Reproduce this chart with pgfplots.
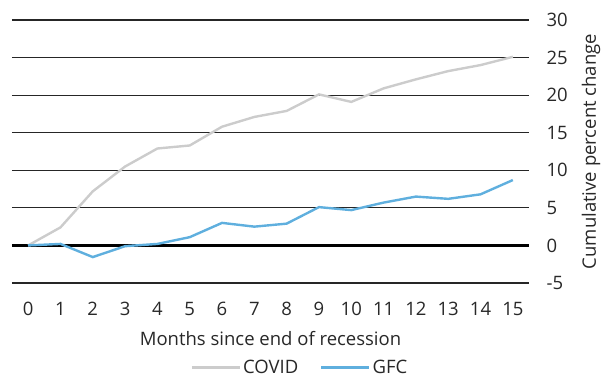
\documentclass[border=0pt]{standalone}
\usepackage{fontspec}
\setmainfont{Open Sans}
\usepackage{pgfplots}
\pgfplotsset{compat=1.18}
\definecolor{covid}{RGB}{204,204,204}
\definecolor{gfc}{RGB}{95,175,222}
\definecolor{txt}{RGB}{40,40,40}
\newcommand{\ff}{\fontsize{18.5}{22}\selectfont}
\begin{document}
\begin{tikzpicture}
\begin{axis}[
  scale only axis,
  width=517pt, height=263pt,
  xmin=-0.5, xmax=15.5, ymin=-5, ymax=30,
  xtick={0,...,15}, ytick={-5,0,...,30},
  axis line style={draw=none},
  major tick length=0pt,
  yticklabel pos=right,
  ymajorgrids,
  grid style={black!85, line width=1.1pt},
  tick label style={font=\ff, text=txt},
  label style={font=\ff, text=txt},
  /pgf/number format/assume math mode=true,
  xticklabel style={yshift=-16pt},
  yticklabel style={xshift=14pt, anchor=west},
  xlabel={Months since end of recession},
  xlabel style={yshift=-8pt},
  ylabel={Cumulative percent change},
  ylabel style={at={(rel axis cs:1.12,0.5)}, anchor=center},
  legend columns=2,
  legend style={draw=none, font=\ff, text=txt, at={(0.557,-0.322)}, anchor=center, inner sep=0pt,
    /tikz/every even column/.append style={column sep=20pt}},
  legend image code/.code={\draw[#1] (0pt,0pt) -- (48pt,0pt);},
]
\addplot[black, line width=2.6pt, forget plot] coordinates {(-0.5,0) (15.5,0)};
\addplot[covid, line width=2.4pt] coordinates {
(0,0) (1,2.4) (2,7.2) (3,10.5) (4,12.9) (5,13.3) (6,15.8) (7,17.1) (8,17.9) (9,20.1) (10,19.1) (11,20.9) (12,22.1) (13,23.2) (14,24.0) (15,25.1)};
\addlegendentry{COVID}
\addplot[gfc, line width=2.4pt] coordinates {
(0,0) (1,0.2) (2,-1.55) (3,-0.1) (4,0.2) (5,1.1) (6,3.0) (7,2.5) (8,2.9) (9,5.1) (10,4.7) (11,5.7) (12,6.5) (13,6.2) (14,6.8) (15,8.7)};
\addlegendentry{GFC}
\end{axis}
\pgfresetboundingbox
\path[use as bounding box] ([shift={(-12pt,-94pt)}]current axis.south west) rectangle ([shift={(72pt,20pt)}]current axis.north east);
\end{tikzpicture}
\end{document}
